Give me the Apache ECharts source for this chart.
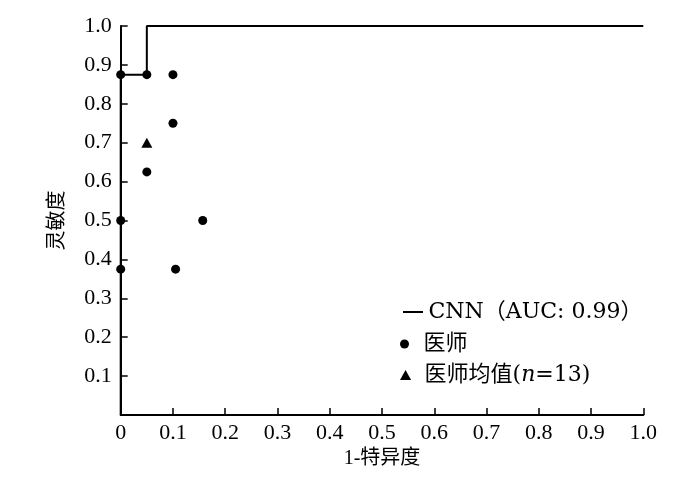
<!DOCTYPE html>
<html><head><meta charset="utf-8">
<script src="https://cdn.jsdelivr.net/npm/echarts@6/dist/echarts.min.js"></script>
<style>html,body{margin:0;padding:0;background:#fff}#c{width:700px;height:477px}</style>
</head><body><div id="c"></div>
<script>
var cnnX = [0, 0, 0.05, 0.05, 1.0];
var cnnY = [0, 0.875, 0.875, 1.0, 1.0];
var docX = [0, 0.05, 0.1, 0.1, 0.05, 0, 0.157, 0, 0.105];
var docY = [0.875, 0.875, 0.875, 0.75, 0.625, 0.5, 0.5, 0.375, 0.375];
var meanX = [0.05];
var meanY = [0.7];
var seriesNames = ['CNN（AUC: 0.99）', '医师', '医师均值(n=13)'];

var serif = '"Liberation Serif", "Noto Sans CJK SC", serif';
var legFont = '"DejaVu Serif", "Noto Sans CJK SC", serif';
var chart = echarts.init(document.getElementById('c'), null, {renderer: 'canvas'});
function pairs(xs, ys){ return xs.map(function(x,i){return [x, ys[i]];}); }
var legTxt = {fontFamily: legFont, fontSize: 22, color: '#000',
  rich: {i: {fontFamily: legFont, fontSize: 22, fontStyle: 'italic', color: '#000'}}};
chart.setOption({
  animation: false,
  backgroundColor: '#fff',
  grid: {left: 120.7, right: 56.7, top: 26, bottom: 62, containLabel: false},
  xAxis: {
    type: 'value', min: 0, max: 1, interval: 0.1,
    name: '1-特异度', nameLocation: 'middle', nameGap: 26,
    nameTextStyle: {fontFamily: serif, fontSize: 20, color: '#000'},
    axisLine: {lineStyle: {color: '#000', width: 2}},
    axisTick: {inside: true, length: 7, lineStyle: {color: '#000', width: 1.5}},
    axisLabel: {color: '#000', fontFamily: serif, fontSize: 22, margin: 7,
      formatter: function(v){ return v === 0 ? '0' : v.toFixed(1); }},
    splitLine: {show: false}
  },
  yAxis: {
    type: 'value', min: 0, max: 1, interval: 0.1,
    name: '灵敏度', nameLocation: 'middle', nameGap: 53, nameRotate: 90,
    nameTextStyle: {fontFamily: serif, fontSize: 20, color: '#000'},
    axisLine: {lineStyle: {color: '#000', width: 2}},
    axisTick: {inside: true, length: 7, lineStyle: {color: '#000', width: 1.5}},
    axisLabel: {color: '#000', fontFamily: serif, fontSize: 22, margin: 9, showMinLabel: false,
      formatter: function(v){ return v.toFixed(1); }},
    splitLine: {show: false}
  },
  legend: [
    {left: 398, top: 296, itemWidth: 21, itemHeight: 2, textStyle: legTxt,
     data: [{name: seriesNames[0], icon: 'path://M0,0L20,0L20,2L0,2Z'}]},
    {left: 395, top: 328, itemWidth: 28, itemHeight: 9, textStyle: legTxt,
     data: [{name: seriesNames[1], icon: 'circle'}]},
    {left: 395, top: 359, itemWidth: 28, itemHeight: 10, textStyle: legTxt,
     formatter: function(){ return '医师均值({i|n}=13)'; },
     data: [{name: seriesNames[2], icon: 'path://M5,0L10,9L0,9Z'}]}
  ],
  series: [
    {name: seriesNames[0], type: 'line', data: pairs(cnnX, cnnY), symbol: 'none',
     lineStyle: {color: '#000', width: 2}, itemStyle: {color: '#000'}},
    {name: seriesNames[1], type: 'scatter', data: pairs(docX, docY), symbol: 'circle', symbolSize: 9,
     itemStyle: {color: '#000', opacity: 1}},
    {name: seriesNames[2], type: 'scatter', data: pairs(meanX, meanY), symbol: 'triangle', symbolSize: [11, 10],
     itemStyle: {color: '#000', opacity: 1}}
  ]
});
</script></body></html>
